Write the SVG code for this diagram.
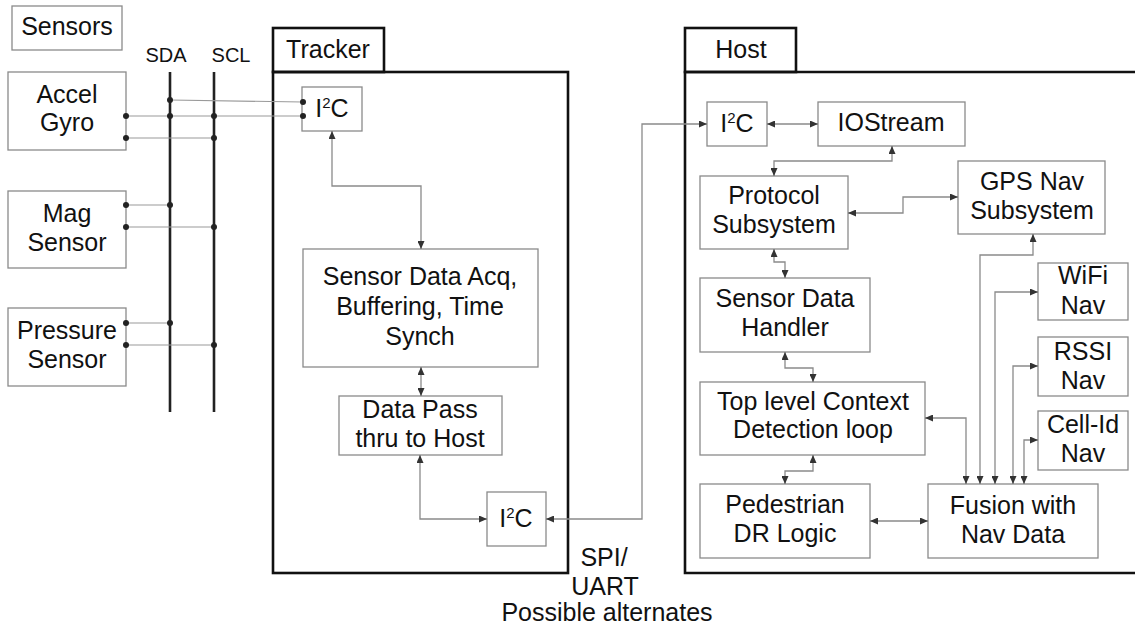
<svg xmlns="http://www.w3.org/2000/svg" width="1135" height="628" viewBox="0 0 1135 628">
  <style>
    text { font-family: "Liberation Sans", Arial, sans-serif; font-size: 25px; fill: #111; text-anchor: middle; }
    .bus-label { font-size: 20px; }
    .sup { font-size: 15px; }
    .box { fill: #fff; stroke: #8a8a8a; stroke-width: 1.3; }
    .frame { fill: none; stroke: #111; stroke-width: 2.6; }
    .bus { stroke: #222; stroke-width: 2.6; fill: none; }
    .wire { stroke: #9a9a9a; stroke-width: 1.2; fill: none; }
    .link { stroke: #8a8a8a; stroke-width: 1.3; fill: none; marker-start: url(#arr); marker-end: url(#arr); }
    .dot { fill: #222; }
  </style>
  <defs>
    <marker id="arr" viewBox="0 0 8 7" refX="8" refY="3.5" markerWidth="8" markerHeight="7" markerUnits="userSpaceOnUse" orient="auto-start-reverse">
      <path d="M0,0 L8,3.5 L0,7 z" fill="#333"/>
    </marker>
  </defs>

  <rect width="1135" height="628" fill="#fff"/>

  <!-- Sensors side -->
  <g id="sensors-title">
    <rect class="box" x="12" y="6" width="110" height="44"/>
    <text x="67" y="35">Sensors</text>
  </g>
  <g id="bus">
    <line class="bus" x1="170" y1="72" x2="170" y2="412"/>
    <line class="bus" x1="214" y1="72" x2="214" y2="412"/>
    <text class="bus-label" x="166" y="62">SDA</text>
    <text class="bus-label" x="231" y="62">SCL</text>
  </g>
  <g id="accel-gyro">
    <rect class="box" x="8" y="72" width="118" height="78"/>
    <text x="67" y="103">Accel</text>
    <text x="67" y="131">Gyro</text>
  </g>
  <g id="mag-sensor">
    <rect class="box" x="8" y="191" width="118" height="77"/>
    <text x="67" y="222">Mag</text>
    <text x="67" y="251">Sensor</text>
  </g>
  <g id="pressure-sensor">
    <rect class="box" x="8" y="308" width="118" height="78"/>
    <text x="67" y="339">Pressure</text>
    <text x="67" y="368">Sensor</text>
  </g>

  <!-- Tracker -->
  <g id="tracker">
    <rect class="frame" x="273" y="28" width="111" height="44"/>
    <rect class="frame" x="273" y="72" width="295" height="501"/>
    <text x="328" y="58">Tracker</text>
  </g>
  <g id="tracker-i2c-in">
    <rect class="box" x="302" y="87" width="60" height="44"/>
    <text x="332" y="117">I<tspan class="sup" dy="-9">2</tspan><tspan dy="9">C</tspan></text>
  </g>
  <g id="sensor-data-acq">
    <rect class="box" x="303" y="249" width="235" height="118"/>
    <text x="420" y="285">Sensor Data Acq,</text>
    <text x="420" y="315">Buffering, Time</text>
    <text x="420" y="345">Synch</text>
  </g>
  <g id="data-pass">
    <rect class="box" x="339" y="396" width="163" height="59"/>
    <text x="420" y="418">Data Pass</text>
    <text x="420" y="447">thru to Host</text>
  </g>
  <g id="tracker-i2c-out">
    <rect class="box" x="487" y="492" width="59" height="54"/>
    <text x="516" y="527">I<tspan class="sup" dy="-9">2</tspan><tspan dy="9">C</tspan></text>
  </g>

  <g id="link-label">
    <text x="604" y="566">SPI/</text>
    <text x="605" y="595">UART</text>
    <text x="607" y="621">Possible alternates</text>
  </g>

  <!-- Host -->
  <g id="host">
    <rect class="frame" x="685" y="28" width="111" height="44"/>
    <path class="frame" d="M1140,72 H685 V573 H1140"/>
    <text x="741" y="58">Host</text>
  </g>
  <g id="host-i2c">
    <rect class="box" x="707" y="102" width="60" height="44"/>
    <text x="737" y="132">I<tspan class="sup" dy="-9">2</tspan><tspan dy="9">C</tspan></text>
  </g>
  <g id="iostream">
    <rect class="box" x="818" y="102" width="147" height="44"/>
    <text x="891" y="131">IOStream</text>
  </g>
  <g id="protocol">
    <rect class="box" x="700" y="176" width="148" height="73"/>
    <text x="774" y="204">Protocol</text>
    <text x="774" y="233">Subsystem</text>
  </g>
  <g id="gps-nav">
    <rect class="box" x="958" y="161" width="147" height="73"/>
    <text x="1032" y="190">GPS Nav</text>
    <text x="1032" y="219">Subsystem</text>
  </g>
  <g id="sensor-data-handler">
    <rect class="box" x="700" y="278" width="170" height="74"/>
    <text x="785" y="307">Sensor Data</text>
    <text x="785" y="336">Handler</text>
  </g>
  <g id="wifi-nav">
    <rect class="box" x="1038" y="263" width="90" height="57"/>
    <text x="1083" y="284">WiFi</text>
    <text x="1083" y="314">Nav</text>
  </g>
  <g id="rssi-nav">
    <rect class="box" x="1038" y="337" width="90" height="59"/>
    <text x="1083" y="360">RSSI</text>
    <text x="1083" y="389">Nav</text>
  </g>
  <g id="top-level-context">
    <rect class="box" x="700" y="382" width="225" height="73"/>
    <text x="813" y="410">Top level Context</text>
    <text x="813" y="438">Detection loop</text>
  </g>
  <g id="cell-id-nav">
    <rect class="box" x="1038" y="411" width="90" height="59"/>
    <text x="1083" y="433">Cell-Id</text>
    <text x="1083" y="462">Nav</text>
  </g>
  <g id="pedestrian-dr">
    <rect class="box" x="700" y="484" width="170" height="74"/>
    <text x="785" y="513">Pedestrian</text>
    <text x="785" y="542">DR Logic</text>
  </g>
  <g id="fusion">
    <rect class="box" x="928" y="484" width="170" height="74"/>
    <text x="1013" y="514">Fusion with</text>
    <text x="1013" y="543">Nav Data</text>
  </g>

  <!-- Connectors -->
  <g id="connectors">
    <!-- sensor wiring onto the bus and into the tracker I2C port -->
    <path class="wire" d="M170,100 L303,102"/>
    <path class="wire" d="M126,116 H303"/>
    <path class="wire" d="M126,138 H214"/>
    <path class="wire" d="M126,205 H170"/>
    <path class="wire" d="M126,227 H214"/>
    <path class="wire" d="M126,323 H170"/>
    <path class="wire" d="M126,345 H214"/>
    <circle class="dot" cx="170" cy="100" r="3"/>
    <circle class="dot" cx="303" cy="102" r="3"/>
    <circle class="dot" cx="126" cy="116" r="3"/>
    <circle class="dot" cx="170" cy="116" r="3"/>
    <circle class="dot" cx="214" cy="116" r="3"/>
    <circle class="dot" cx="303" cy="116" r="3"/>
    <circle class="dot" cx="126" cy="138" r="3"/>
    <circle class="dot" cx="214" cy="138" r="3"/>
    <circle class="dot" cx="126" cy="205" r="3"/>
    <circle class="dot" cx="170" cy="205" r="3"/>
    <circle class="dot" cx="126" cy="227" r="3"/>
    <circle class="dot" cx="214" cy="227" r="3"/>
    <circle class="dot" cx="126" cy="323" r="3"/>
    <circle class="dot" cx="170" cy="323" r="3"/>
    <circle class="dot" cx="126" cy="345" r="3"/>
    <circle class="dot" cx="214" cy="345" r="3"/>

    <!-- tracker internals -->
    <path class="link" d="M332,131 V186 H421 V249"/>
    <path class="link" d="M421,367 V396"/>
    <path class="link" d="M420,455 V519 H487"/>
    <!-- tracker to host -->
    <path class="link" d="M546,519 H642 V124 H707"/>

    <!-- host internals -->
    <path class="link" d="M767,124 H818"/>
    <path class="link" d="M892,146 V161 H774 V176"/>
    <path class="link" d="M848,213 H903 V197 H958"/>
    <path class="link" d="M774,249 V262 H785 V278"/>
    <path class="link" d="M785,352 V368 H813 V382"/>
    <path class="link" d="M813,455 V471 H785 V484"/>
    <path class="link" d="M870,521 H928"/>
    <path class="link" d="M925,418 H966 V484"/>
    <path class="link" d="M1033,234 V255 H980 V484"/>
    <path class="link" d="M1038,292 H995 V484"/>
    <path class="link" d="M1038,366 H1013 V484"/>
    <path class="link" d="M1038,440 H1024 V484"/>
  </g>
</svg>
